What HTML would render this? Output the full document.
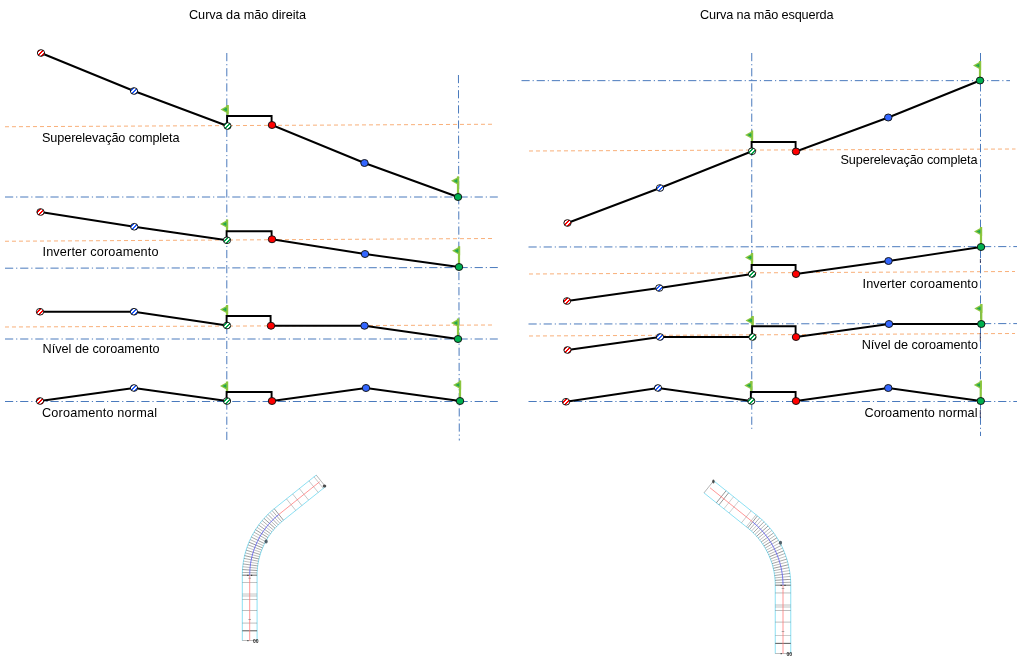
<!DOCTYPE html>
<html lang="pt"><head><meta charset="utf-8"><title>Superelevação</title>
<style>
html,body{margin:0;padding:0;background:#fff}
body{width:1024px;height:668px;overflow:hidden}
svg{display:block}
text{font-family:"Liberation Sans",sans-serif;font-size:12.7px;fill:#000}
.dd{stroke:#4a7abd;stroke-width:1;stroke-dasharray:8.2 2.9 1.2 2.85;fill:none}
.od{stroke:#f9b07a;stroke-width:1;stroke-dasharray:4 3;fill:none}
.ln{stroke:#000;stroke-width:1.9;fill:none;stroke-linejoin:miter;stroke-linecap:butt}
.c{stroke:#111;stroke-width:0.95}
.pole{stroke:#8cc63f;stroke-width:2.2;fill:none}
.fl{fill:#8cc63f}
.fi{fill:#22a84f}
</style></head><body>
<svg width="1024" height="668" viewBox="0 0 1024 668">
<defs>
<pattern id="hr" width="4" height="4" patternUnits="userSpaceOnUse"><rect width="4" height="4" fill="#fff"/><rect x="0" y="0" width="2" height="1" fill="#ff0000"/><rect x="3" y="1" width="2" height="1" fill="#ff0000"/><rect x="0" y="1" width="1" height="1" fill="#ff0000"/><rect x="2" y="2" width="2" height="1" fill="#ff0000"/><rect x="1" y="3" width="2" height="1" fill="#ff0000"/></pattern>
<pattern id="hb" width="4" height="4" patternUnits="userSpaceOnUse"><rect width="4" height="4" fill="#fff"/><rect x="0" y="0" width="2" height="1" fill="#1f5bff"/><rect x="3" y="1" width="2" height="1" fill="#1f5bff"/><rect x="0" y="1" width="1" height="1" fill="#1f5bff"/><rect x="2" y="2" width="2" height="1" fill="#1f5bff"/><rect x="1" y="3" width="2" height="1" fill="#1f5bff"/></pattern>
<pattern id="hg" width="4" height="4" patternUnits="userSpaceOnUse"><rect width="4" height="4" fill="#fff"/><rect x="0" y="0" width="2" height="1" fill="#00a849"/><rect x="3" y="1" width="2" height="1" fill="#00a849"/><rect x="0" y="1" width="1" height="1" fill="#00a849"/><rect x="2" y="2" width="2" height="1" fill="#00a849"/><rect x="1" y="3" width="2" height="1" fill="#00a849"/></pattern>
</defs>

<line class="od" x1="5" y1="126.75" x2="492" y2="124.25"/>
<line class="od" x1="5" y1="241.25" x2="492" y2="238.5"/>
<line class="od" x1="5" y1="327" x2="492" y2="325"/>
<line class="od" x1="529" y1="151" x2="1015.5" y2="149"/>
<line class="od" x1="529" y1="274" x2="1015" y2="271.5"/>
<line class="od" x1="529" y1="336" x2="1015" y2="333.5"/>
<line class="dd" x1="226.8" y1="53" x2="226.8" y2="441"/>
<line class="dd" x1="458.45" y1="75" x2="459.3" y2="440.5"/>
<line class="dd" x1="5" y1="197" x2="497.8" y2="197"/>
<line class="dd" x1="5" y1="268.2" x2="497.8" y2="267.55"/>
<line class="dd" x1="5" y1="339" x2="497.8" y2="339"/>
<line class="dd" x1="5" y1="401.5" x2="497.8" y2="401.5"/>
<line class="dd" x1="751.75" y1="53" x2="751.75" y2="431"/>
<line class="dd" x1="980.5" y1="53" x2="980.5" y2="436"/>
<line class="dd" x1="521.5" y1="80.65" x2="1010" y2="80.65"/>
<line class="dd" x1="528.5" y1="247.0" x2="1017" y2="246.6"/>
<line class="dd" x1="528.5" y1="324.0" x2="1017" y2="323.6"/>
<line class="dd" x1="528.5" y1="401.5" x2="1017" y2="401.5"/>
<line class="pole" x1="227.5" y1="105" x2="227.5" y2="116"/>
<polygon class="fl" points="228.6,105 220.5,109.4 228.6,114"/>
<polygon class="fi" points="226.9,107.4 222.9,109.5 226.9,111.6"/>
<line class="pole" x1="458" y1="176.4" x2="458" y2="197"/>
<polygon class="fl" points="459.1,176.4 451,180.8 459.1,185.4"/>
<polygon class="fi" points="457.4,178.8 453.4,180.9 457.4,183.0"/>
<polyline class="ln" points="41,53 134,91 227.5,126 227.1,126 227.1,116 271.6,116 271.6,125 272,125 364.5,163 458,197"/>
<ellipse class="c" cx="41" cy="53" rx="3.65" ry="3.35" fill="url(#hr)"/>
<ellipse class="c" cx="134" cy="91" rx="3.65" ry="3.35" fill="url(#hb)"/>
<ellipse class="c" cx="227.5" cy="126" rx="3.65" ry="3.35" fill="url(#hg)"/>
<ellipse class="c" cx="272" cy="125" rx="3.75" ry="3.5" fill="#ff0000"/>
<ellipse class="c" cx="364.5" cy="163" rx="3.75" ry="3.5" fill="#3366ff"/>
<ellipse class="c" cx="458" cy="197" rx="3.75" ry="3.5" fill="#00b050"/>
<line class="pole" x1="227" y1="219.5" x2="227" y2="231.25"/>
<polygon class="fl" points="228.1,219.5 220,223.9 228.1,228.5"/>
<polygon class="fi" points="226.4,221.9 222.4,224.0 226.4,226.1"/>
<line class="pole" x1="459" y1="246.3" x2="459" y2="267"/>
<polygon class="fl" points="460.1,246.3 452,250.70000000000002 460.1,255.3"/>
<polygon class="fi" points="458.4,248.70000000000002 454.4,250.8 458.4,252.9"/>
<polyline class="ln" points="40.5,212 134.25,226.75 227,240.25 226.6,240.25 226.6,231.25 271.6,231.25 271.6,239.25 272,239.25 365,254 459,267"/>
<ellipse class="c" cx="40.5" cy="212" rx="3.65" ry="3.35" fill="url(#hr)"/>
<ellipse class="c" cx="134.25" cy="226.75" rx="3.65" ry="3.35" fill="url(#hb)"/>
<ellipse class="c" cx="227" cy="240.25" rx="3.65" ry="3.35" fill="url(#hg)"/>
<ellipse class="c" cx="272" cy="239.25" rx="3.75" ry="3.5" fill="#ff0000"/>
<ellipse class="c" cx="365" cy="254" rx="3.75" ry="3.5" fill="#3366ff"/>
<ellipse class="c" cx="459" cy="267" rx="3.75" ry="3.5" fill="#00b050"/>
<line class="pole" x1="227" y1="305" x2="227" y2="316"/>
<polygon class="fl" points="228.1,305 220,309.4 228.1,314"/>
<polygon class="fi" points="226.4,307.4 222.4,309.5 226.4,311.6"/>
<line class="pole" x1="458" y1="318.5" x2="458" y2="339"/>
<polygon class="fl" points="459.1,318.5 451,322.9 459.1,327.5"/>
<polygon class="fi" points="457.4,320.9 453.4,323.0 457.4,325.1"/>
<polyline class="ln" points="40,311.75 134,311.75 227,325.5 226.6,325.5 226.6,316 270.6,316 270.6,325.75 271,325.75 364.5,325.75 458,339"/>
<ellipse class="c" cx="40" cy="311.75" rx="3.65" ry="3.35" fill="url(#hr)"/>
<ellipse class="c" cx="134" cy="311.75" rx="3.65" ry="3.35" fill="url(#hb)"/>
<ellipse class="c" cx="227" cy="325.5" rx="3.65" ry="3.35" fill="url(#hg)"/>
<ellipse class="c" cx="271" cy="325.75" rx="3.75" ry="3.5" fill="#ff0000"/>
<ellipse class="c" cx="364.5" cy="325.75" rx="3.75" ry="3.5" fill="#3366ff"/>
<ellipse class="c" cx="458" cy="339" rx="3.75" ry="3.5" fill="#00b050"/>
<line class="pole" x1="227" y1="381.5" x2="227" y2="392"/>
<polygon class="fl" points="228.1,381.5 220,385.9 228.1,390.5"/>
<polygon class="fi" points="226.4,383.9 222.4,386.0 226.4,388.1"/>
<line class="pole" x1="460" y1="380.5" x2="460" y2="401"/>
<polygon class="fl" points="461.1,380.5 453,384.9 461.1,389.5"/>
<polygon class="fi" points="459.4,382.9 455.4,385.0 459.4,387.1"/>
<polyline class="ln" points="40,401 134,388 227,401 226.6,401 226.6,392 271.6,392 271.6,401 272,401 366,388 460,401"/>
<ellipse class="c" cx="40" cy="401" rx="3.65" ry="3.35" fill="url(#hr)"/>
<ellipse class="c" cx="134" cy="388" rx="3.65" ry="3.35" fill="url(#hb)"/>
<ellipse class="c" cx="227" cy="401" rx="3.65" ry="3.35" fill="url(#hg)"/>
<ellipse class="c" cx="272" cy="401" rx="3.75" ry="3.5" fill="#ff0000"/>
<ellipse class="c" cx="366" cy="388" rx="3.75" ry="3.5" fill="#3366ff"/>
<ellipse class="c" cx="460" cy="401" rx="3.75" ry="3.5" fill="#00b050"/>
<line class="pole" x1="752" y1="130.5" x2="752" y2="142"/>
<polygon class="fl" points="753.1,130.5 745,134.9 753.1,139.5"/>
<polygon class="fi" points="751.4,132.9 747.4,135.0 751.4,137.1"/>
<line class="pole" x1="980" y1="61" x2="980" y2="80.5"/>
<polygon class="fl" points="981.1,61 973,65.4 981.1,70"/>
<polygon class="fi" points="979.4,63.4 975.4,65.5 979.4,67.6"/>
<polyline class="ln" points="567.5,223 660,188 752,151.25 751.6,151.25 751.6,142 795.6,142 795.6,151.5 796,151.5 888.25,117.5 980,80.5"/>
<ellipse class="c" cx="567.5" cy="223" rx="3.65" ry="3.35" fill="url(#hr)"/>
<ellipse class="c" cx="660" cy="188" rx="3.65" ry="3.35" fill="url(#hb)"/>
<ellipse class="c" cx="752" cy="151.25" rx="3.65" ry="3.35" fill="url(#hg)"/>
<ellipse class="c" cx="796" cy="151.5" rx="3.75" ry="3.5" fill="#ff0000"/>
<ellipse class="c" cx="888.25" cy="117.5" rx="3.75" ry="3.5" fill="#3366ff"/>
<ellipse class="c" cx="980" cy="80.5" rx="3.75" ry="3.5" fill="#00b050"/>
<line class="pole" x1="752" y1="253" x2="752" y2="265"/>
<polygon class="fl" points="753.1,253 745,257.4 753.1,262"/>
<polygon class="fi" points="751.4,255.4 747.4,257.5 751.4,259.6"/>
<line class="pole" x1="981" y1="227" x2="981" y2="247"/>
<polygon class="fl" points="982.1,227 974,231.4 982.1,236"/>
<polygon class="fi" points="980.4,229.4 976.4,231.5 980.4,233.6"/>
<polyline class="ln" points="567,301 659.25,288 752,274 751.6,274 751.6,265 795.6,265 795.6,274 796,274 888.5,261 981,247"/>
<ellipse class="c" cx="567" cy="301" rx="3.65" ry="3.35" fill="url(#hr)"/>
<ellipse class="c" cx="659.25" cy="288" rx="3.65" ry="3.35" fill="url(#hb)"/>
<ellipse class="c" cx="752" cy="274" rx="3.65" ry="3.35" fill="url(#hg)"/>
<ellipse class="c" cx="796" cy="274" rx="3.75" ry="3.5" fill="#ff0000"/>
<ellipse class="c" cx="888.5" cy="261" rx="3.75" ry="3.5" fill="#3366ff"/>
<ellipse class="c" cx="981" cy="247" rx="3.75" ry="3.5" fill="#00b050"/>
<line class="pole" x1="752.5" y1="316" x2="752.5" y2="326.25"/>
<polygon class="fl" points="753.6,316 745.5,320.4 753.6,325"/>
<polygon class="fi" points="751.9,318.4 747.9,320.5 751.9,322.6"/>
<line class="pole" x1="981.25" y1="304" x2="981.25" y2="324"/>
<polygon class="fl" points="982.35,304 974.25,308.4 982.35,313"/>
<polygon class="fi" points="980.65,306.4 976.65,308.5 980.65,310.6"/>
<polyline class="ln" points="567.5,350 660,337 752.5,337 752.1,337 752.1,326.25 795.6,326.25 795.6,337 796,337 889,324 981.25,324"/>
<ellipse class="c" cx="567.5" cy="350" rx="3.65" ry="3.35" fill="url(#hr)"/>
<ellipse class="c" cx="660" cy="337" rx="3.65" ry="3.35" fill="url(#hb)"/>
<ellipse class="c" cx="752.5" cy="337" rx="3.65" ry="3.35" fill="url(#hg)"/>
<ellipse class="c" cx="796" cy="337" rx="3.75" ry="3.5" fill="#ff0000"/>
<ellipse class="c" cx="889" cy="324" rx="3.75" ry="3.5" fill="#3366ff"/>
<ellipse class="c" cx="981.25" cy="324" rx="3.75" ry="3.5" fill="#00b050"/>
<line class="pole" x1="751.25" y1="381" x2="751.25" y2="392"/>
<polygon class="fl" points="752.35,381 744.25,385.4 752.35,390"/>
<polygon class="fi" points="750.65,383.4 746.65,385.5 750.65,387.6"/>
<line class="pole" x1="980.75" y1="380.5" x2="980.75" y2="401"/>
<polygon class="fl" points="981.85,380.5 973.75,384.9 981.85,389.5"/>
<polygon class="fi" points="980.15,382.9 976.15,385.0 980.15,387.1"/>
<polyline class="ln" points="566,401.75 658,388 751.25,401 750.85,401 750.85,392 795.6,392 795.6,401 796,401 888.25,388 980.75,401"/>
<ellipse class="c" cx="566" cy="401.75" rx="3.65" ry="3.35" fill="url(#hr)"/>
<ellipse class="c" cx="658" cy="388" rx="3.65" ry="3.35" fill="url(#hb)"/>
<ellipse class="c" cx="751.25" cy="401" rx="3.65" ry="3.35" fill="url(#hg)"/>
<ellipse class="c" cx="796" cy="401" rx="3.75" ry="3.5" fill="#ff0000"/>
<ellipse class="c" cx="888.25" cy="388" rx="3.75" ry="3.5" fill="#3366ff"/>
<ellipse class="c" cx="980.75" cy="401" rx="3.75" ry="3.5" fill="#00b050"/>
<text x="189" y="18.75" textLength="117" lengthAdjust="spacing">Curva da mão direita</text>
<text x="700" y="18.75" textLength="133.5" lengthAdjust="spacing">Curva na mão esquerda</text>
<text x="42" y="141.75" textLength="137.5" lengthAdjust="spacing">Superelevação completa</text>
<text x="42.5" y="256" textLength="116" lengthAdjust="spacing">Inverter coroamento</text>
<text x="42.5" y="353" textLength="117" lengthAdjust="spacing">Nível de coroamento</text>
<text x="42" y="417" textLength="115" lengthAdjust="spacing">Coroamento normal</text>
<text x="840.5" y="163.5" textLength="137" lengthAdjust="spacing">Superelevação completa</text>
<text x="862.5" y="288" textLength="115.5" lengthAdjust="spacing">Inverter coroamento</text>
<text x="861.75" y="348.5" textLength="116.25" lengthAdjust="spacing">Nível de coroamento</text>
<text x="864.5" y="416.75" textLength="113" lengthAdjust="spacing">Coroamento normal</text>
<line x1="980.3" y1="333" x2="980.3" y2="341.4" stroke="#1a1a40" stroke-width="0.8"/>
<line x1="980.4" y1="259" x2="980.4" y2="263" stroke="#1a1a40" stroke-width="0.8"/>
<line x1="980.3" y1="410" x2="980.3" y2="418" stroke="#1a1a40" stroke-width="0.8"/>
<polyline fill="none" stroke="#7fdcf2" stroke-width="0.9" points="242.30,640.60 242.30,575.20 242.36,572.02 242.54,568.85 242.83,565.68 243.25,562.53 243.78,559.40 244.43,556.29 245.19,553.20 246.07,550.15 247.06,547.13 248.16,544.15 249.37,541.21 250.70,538.32 252.13,535.48 253.66,532.70 255.30,529.97 257.03,527.31 258.87,524.72 260.80,522.19 262.82,519.74 264.94,517.37 267.14,515.07 269.42,512.86 271.79,510.74 274.23,508.71 316.22,475.07"/>
<polyline fill="none" stroke="#7fdcf2" stroke-width="0.9" points="257.10,640.60 257.10,575.20 257.15,572.57 257.30,569.95 257.54,567.34 257.88,564.73 258.32,562.14 258.86,559.57 259.49,557.02 260.21,554.50 261.03,552.00 261.94,549.54 262.95,547.11 264.04,544.73 265.22,542.38 266.49,540.08 267.84,537.83 269.27,535.63 270.79,533.49 272.39,531.40 274.06,529.37 275.80,527.41 277.62,525.52 279.51,523.69 281.46,521.94 283.48,520.26 325.47,486.62"/>
<line x1="242.30" y1="575.20" x2="257.10" y2="575.20" stroke="#444" stroke-width="0.6" opacity="0.9"/>
<line x1="242.30" y1="582.60" x2="257.10" y2="582.60" stroke="#444" stroke-width="0.5" opacity="0.7"/>
<line x1="242.30" y1="593.70" x2="257.10" y2="593.70" stroke="#444" stroke-width="0.5" opacity="0.35"/>
<line x1="242.30" y1="594.60" x2="257.10" y2="594.60" stroke="#444" stroke-width="0.5" opacity="0.35"/>
<line x1="242.30" y1="595.50" x2="257.10" y2="595.50" stroke="#444" stroke-width="0.5" opacity="0.35"/>
<line x1="242.30" y1="596.40" x2="257.10" y2="596.40" stroke="#444" stroke-width="0.5" opacity="0.35"/>
<line x1="242.30" y1="599.40" x2="257.10" y2="599.40" stroke="#444" stroke-width="0.5" opacity="0.7"/>
<line x1="242.30" y1="610.50" x2="257.10" y2="610.50" stroke="#444" stroke-width="0.5" opacity="0.7"/>
<line x1="242.30" y1="623.10" x2="257.10" y2="623.10" stroke="#444" stroke-width="0.5" opacity="0.7"/>
<line x1="242.30" y1="630.80" x2="257.10" y2="630.80" stroke="#444" stroke-width="1.0" opacity="0.9"/>
<line x1="242.30" y1="640.60" x2="257.10" y2="640.60" stroke="#444" stroke-width="0.5" opacity="0.8"/>
<line x1="242.30" y1="575.20" x2="257.10" y2="575.20" stroke="#333" stroke-width="0.55" opacity="0.55"/>
<line x1="242.35" y1="572.38" x2="257.14" y2="572.87" stroke="#333" stroke-width="0.55" opacity="0.7250000000000001"/>
<line x1="242.49" y1="569.55" x2="257.25" y2="570.53" stroke="#333" stroke-width="0.55" opacity="0.9"/>
<line x1="242.72" y1="566.74" x2="257.45" y2="568.21" stroke="#333" stroke-width="0.55" opacity="0.6375000000000001"/>
<line x1="243.05" y1="563.93" x2="257.72" y2="565.89" stroke="#333" stroke-width="0.55" opacity="0.8125"/>
<line x1="243.47" y1="561.14" x2="258.07" y2="563.58" stroke="#333" stroke-width="0.55" opacity="0.55"/>
<line x1="243.98" y1="558.36" x2="258.49" y2="561.28" stroke="#333" stroke-width="0.55" opacity="0.7250000000000001"/>
<line x1="244.59" y1="555.60" x2="258.99" y2="559.00" stroke="#333" stroke-width="0.55" opacity="0.9"/>
<line x1="245.28" y1="552.86" x2="259.56" y2="556.74" stroke="#333" stroke-width="0.55" opacity="0.6375000000000001"/>
<line x1="246.07" y1="550.15" x2="260.21" y2="554.50" stroke="#333" stroke-width="0.55" opacity="0.8125"/>
<line x1="246.94" y1="547.46" x2="260.94" y2="552.28" stroke="#333" stroke-width="0.55" opacity="0.55"/>
<line x1="247.91" y1="544.81" x2="261.73" y2="550.09" stroke="#333" stroke-width="0.55" opacity="0.7250000000000001"/>
<line x1="248.96" y1="542.18" x2="262.60" y2="547.92" stroke="#333" stroke-width="0.55" opacity="0.9"/>
<line x1="250.10" y1="539.60" x2="263.54" y2="545.78" stroke="#333" stroke-width="0.55" opacity="0.6375000000000001"/>
<line x1="251.32" y1="537.05" x2="264.55" y2="543.68" stroke="#333" stroke-width="0.55" opacity="0.8125"/>
<line x1="252.62" y1="534.55" x2="265.63" y2="541.61" stroke="#333" stroke-width="0.55" opacity="0.55"/>
<line x1="254.01" y1="532.09" x2="266.78" y2="539.58" stroke="#333" stroke-width="0.55" opacity="0.7250000000000001"/>
<line x1="255.48" y1="529.67" x2="267.99" y2="537.58" stroke="#333" stroke-width="0.55" opacity="0.9"/>
<line x1="257.03" y1="527.31" x2="269.27" y2="535.63" stroke="#333" stroke-width="0.55" opacity="0.6375000000000001"/>
<line x1="258.66" y1="525.00" x2="270.62" y2="533.72" stroke="#333" stroke-width="0.55" opacity="0.8125"/>
<line x1="260.36" y1="522.75" x2="272.02" y2="531.86" stroke="#333" stroke-width="0.55" opacity="0.55"/>
<line x1="262.14" y1="520.55" x2="273.49" y2="530.04" stroke="#333" stroke-width="0.55" opacity="0.7250000000000001"/>
<line x1="263.99" y1="518.41" x2="275.02" y2="528.28" stroke="#333" stroke-width="0.55" opacity="0.9"/>
<line x1="265.90" y1="516.34" x2="276.60" y2="526.56" stroke="#333" stroke-width="0.55" opacity="0.6375000000000001"/>
<line x1="267.89" y1="514.33" x2="278.24" y2="524.90" stroke="#333" stroke-width="0.55" opacity="0.8125"/>
<line x1="269.94" y1="512.38" x2="279.94" y2="523.30" stroke="#333" stroke-width="0.55" opacity="0.55"/>
<line x1="272.05" y1="510.51" x2="281.69" y2="521.75" stroke="#333" stroke-width="0.55" opacity="0.7250000000000001"/>
<line x1="274.23" y1="508.71" x2="283.48" y2="520.26" stroke="#333" stroke-width="0.55" opacity="0.9"/>
<line x1="286.48" y1="498.89" x2="295.74" y2="510.44" stroke="#444" stroke-width="0.5" opacity="0.6"/>
<line x1="292.65" y1="493.95" x2="301.90" y2="505.50" stroke="#444" stroke-width="0.5" opacity="0.6"/>
<line x1="299.36" y1="488.57" x2="308.61" y2="500.12" stroke="#444" stroke-width="0.5" opacity="0.6"/>
<line x1="308.96" y1="480.88" x2="318.21" y2="492.43" stroke="#444" stroke-width="0.5" opacity="0.6"/>
<line x1="314.03" y1="476.82" x2="323.28" y2="488.37" stroke="#444" stroke-width="0.5" opacity="0.6"/>
<line x1="316.22" y1="475.07" x2="325.47" y2="486.62" stroke="#444" stroke-width="0.5" opacity="0.8"/>
<line x1="249.7" y1="640.6" x2="249.7" y2="575.2" stroke="#ff7474" stroke-width="0.75"/>
<polyline fill="none" stroke="#5a5af0" stroke-width="0.8" points="249.70,575.20 249.75,572.30 249.92,569.40 250.19,566.51 250.56,563.63 251.05,560.77 251.64,557.93 252.34,555.11 253.14,552.32 254.04,549.57 255.05,546.84 256.16,544.16 257.37,541.52 258.67,538.93 260.07,536.39 261.57,533.90 263.15,531.47 264.83,529.10 266.59,526.79 268.44,524.56 270.37,522.39 272.38,520.30 274.47,518.28 276.63,516.34 278.86,514.48"/>
<line x1="278.86" y1="514.48" x2="319.67" y2="481.78" stroke="#ff7474" stroke-width="0.75"/>
<text x="253" y="643.2" style="font-size:5px;font-weight:bold;fill:#222">00</text>
<ellipse cx="266.1" cy="541.6" rx="1.6" ry="2" fill="#3a4a55" opacity=".85"/>
<ellipse cx="324.5" cy="486.1" rx="1.8" ry="1.5" fill="#333" opacity=".85"/>
<rect x="247.3" y="574.8" width="1.2" height="1" fill="#222"/><rect x="251" y="574.8" width="1.2" height="1" fill="#222"/>
<rect x="247.3" y="640.2" width="1.2" height="1" fill="#222"/>
<rect x="248.4" y="577.8" width="2.6" height="0.6" fill="#777"/><rect x="248.4" y="619" width="2.6" height="0.6" fill="#777"/>
<polyline fill="none" stroke="#7fdcf2" stroke-width="0.9" points="790.75,653.60 790.75,585.20 790.69,581.89 790.50,578.58 790.19,575.28 789.76,571.99 789.21,568.72 788.53,565.48 787.74,562.26 786.82,559.07 785.79,555.93 784.64,552.82 783.37,549.75 781.99,546.74 780.50,543.78 778.90,540.88 777.20,538.03 775.39,535.26 773.47,532.55 771.46,529.92 769.35,527.36 767.14,524.89 764.85,522.50 762.47,520.19 760.00,517.98 757.45,515.86 713.67,480.78"/>
<polyline fill="none" stroke="#7fdcf2" stroke-width="0.9" points="775.25,653.60 775.25,585.20 775.20,582.46 775.05,579.73 774.79,577.01 774.43,574.29 773.98,571.60 773.42,568.92 772.76,566.26 772.01,563.63 771.15,561.03 770.20,558.47 769.16,555.94 768.02,553.45 766.79,551.00 765.47,548.61 764.06,546.26 762.57,543.97 760.99,541.74 759.32,539.56 757.58,537.45 755.76,535.41 753.87,533.44 751.90,531.53 749.86,529.71 747.76,527.96 703.98,492.88"/>
<line x1="775.25" y1="585.20" x2="790.75" y2="585.20" stroke="#444" stroke-width="0.6" opacity="0.9"/>
<line x1="775.25" y1="592.94" x2="790.75" y2="592.94" stroke="#444" stroke-width="0.5" opacity="0.7"/>
<line x1="775.25" y1="604.55" x2="790.75" y2="604.55" stroke="#444" stroke-width="0.5" opacity="0.35"/>
<line x1="775.25" y1="605.49" x2="790.75" y2="605.49" stroke="#444" stroke-width="0.5" opacity="0.35"/>
<line x1="775.25" y1="606.43" x2="790.75" y2="606.43" stroke="#444" stroke-width="0.5" opacity="0.35"/>
<line x1="775.25" y1="607.38" x2="790.75" y2="607.38" stroke="#444" stroke-width="0.5" opacity="0.35"/>
<line x1="775.25" y1="610.51" x2="790.75" y2="610.51" stroke="#444" stroke-width="0.5" opacity="0.7"/>
<line x1="775.25" y1="622.12" x2="790.75" y2="622.12" stroke="#444" stroke-width="0.5" opacity="0.7"/>
<line x1="775.25" y1="635.30" x2="790.75" y2="635.30" stroke="#444" stroke-width="0.5" opacity="0.7"/>
<line x1="775.25" y1="643.36" x2="790.75" y2="643.36" stroke="#444" stroke-width="1.0" opacity="0.9"/>
<line x1="775.25" y1="653.61" x2="790.75" y2="653.61" stroke="#444" stroke-width="0.5" opacity="0.8"/>
<line x1="790.75" y1="585.20" x2="775.25" y2="585.20" stroke="#333" stroke-width="0.55" opacity="0.55"/>
<line x1="790.70" y1="582.25" x2="775.21" y2="582.77" stroke="#333" stroke-width="0.55" opacity="0.7250000000000001"/>
<line x1="790.55" y1="579.31" x2="775.09" y2="580.34" stroke="#333" stroke-width="0.55" opacity="0.9"/>
<line x1="790.31" y1="576.38" x2="774.89" y2="577.91" stroke="#333" stroke-width="0.55" opacity="0.6375000000000001"/>
<line x1="789.97" y1="573.45" x2="774.61" y2="575.50" stroke="#333" stroke-width="0.55" opacity="0.8125"/>
<line x1="789.53" y1="570.54" x2="774.24" y2="573.09" stroke="#333" stroke-width="0.55" opacity="0.55"/>
<line x1="789.00" y1="567.64" x2="773.80" y2="570.70" stroke="#333" stroke-width="0.55" opacity="0.7250000000000001"/>
<line x1="788.37" y1="564.76" x2="773.28" y2="568.33" stroke="#333" stroke-width="0.55" opacity="0.9"/>
<line x1="787.64" y1="561.90" x2="772.68" y2="565.97" stroke="#333" stroke-width="0.55" opacity="0.6375000000000001"/>
<line x1="786.82" y1="559.07" x2="772.01" y2="563.63" stroke="#333" stroke-width="0.55" opacity="0.8125"/>
<line x1="785.91" y1="556.27" x2="771.25" y2="561.32" stroke="#333" stroke-width="0.55" opacity="0.55"/>
<line x1="784.90" y1="553.50" x2="770.42" y2="559.03" stroke="#333" stroke-width="0.55" opacity="0.7250000000000001"/>
<line x1="783.81" y1="550.77" x2="769.52" y2="556.78" stroke="#333" stroke-width="0.55" opacity="0.9"/>
<line x1="782.62" y1="548.07" x2="768.54" y2="554.55" stroke="#333" stroke-width="0.55" opacity="0.6375000000000001"/>
<line x1="781.35" y1="545.42" x2="767.49" y2="552.36" stroke="#333" stroke-width="0.55" opacity="0.8125"/>
<line x1="779.98" y1="542.80" x2="766.36" y2="550.20" stroke="#333" stroke-width="0.55" opacity="0.55"/>
<line x1="778.53" y1="540.24" x2="765.17" y2="548.08" stroke="#333" stroke-width="0.55" opacity="0.7250000000000001"/>
<line x1="777.00" y1="537.72" x2="763.90" y2="546.01" stroke="#333" stroke-width="0.55" opacity="0.9"/>
<line x1="775.39" y1="535.26" x2="762.57" y2="543.97" stroke="#333" stroke-width="0.55" opacity="0.6375000000000001"/>
<line x1="773.69" y1="532.85" x2="761.17" y2="541.98" stroke="#333" stroke-width="0.55" opacity="0.8125"/>
<line x1="771.91" y1="530.50" x2="759.70" y2="540.04" stroke="#333" stroke-width="0.55" opacity="0.55"/>
<line x1="770.06" y1="528.21" x2="758.17" y2="538.15" stroke="#333" stroke-width="0.55" opacity="0.7250000000000001"/>
<line x1="768.14" y1="525.98" x2="756.58" y2="536.31" stroke="#333" stroke-width="0.55" opacity="0.9"/>
<line x1="766.14" y1="523.82" x2="754.93" y2="534.52" stroke="#333" stroke-width="0.55" opacity="0.6375000000000001"/>
<line x1="764.07" y1="521.72" x2="753.22" y2="532.79" stroke="#333" stroke-width="0.55" opacity="0.8125"/>
<line x1="761.93" y1="519.69" x2="751.45" y2="531.12" stroke="#333" stroke-width="0.55" opacity="0.55"/>
<line x1="759.72" y1="517.74" x2="749.63" y2="529.51" stroke="#333" stroke-width="0.55" opacity="0.7250000000000001"/>
<line x1="757.45" y1="515.86" x2="747.76" y2="527.96" stroke="#333" stroke-width="0.55" opacity="0.9"/>
<line x1="756.05" y1="514.73" x2="746.36" y2="526.83" stroke="#444" stroke-width="0.5" opacity="0.6"/>
<line x1="751.13" y1="510.79" x2="741.44" y2="522.89" stroke="#444" stroke-width="0.5" opacity="0.6"/>
<line x1="738.80" y1="500.92" x2="729.11" y2="513.01" stroke="#444" stroke-width="0.5" opacity="0.5"/>
<line x1="733.57" y1="496.73" x2="723.88" y2="508.82" stroke="#444" stroke-width="0.5" opacity="0.5"/>
<line x1="728.65" y1="492.79" x2="718.96" y2="504.88" stroke="#444" stroke-width="0.7" opacity="0.8"/>
<line x1="726.08" y1="490.72" x2="716.39" y2="502.82" stroke="#444" stroke-width="0.7" opacity="0.8"/>
<line x1="713.67" y1="480.78" x2="703.98" y2="492.88" stroke="#444" stroke-width="0.5" opacity="0.8"/>
<line x1="783" y1="653.6" x2="783" y2="585.2" stroke="#ff7474" stroke-width="0.75"/>
<polyline fill="none" stroke="#5a5af0" stroke-width="0.8" points="783.00,585.20 782.94,582.18 782.77,579.15 782.49,576.14 782.10,573.14 781.59,570.16 780.98,567.20 780.25,564.26 779.41,561.35 778.47,558.48 777.42,555.64 776.27,552.85 775.01,550.09 773.65,547.39 772.19,544.74 770.63,542.15 768.98,539.62 767.23,537.14 765.39,534.74 763.47,532.41 761.45,530.15 759.36,527.97 757.18,525.86 754.93,523.84 752.61,521.91"/>
<line x1="752.61" y1="521.91" x2="710.00" y2="487.77" stroke="#ff7474" stroke-width="0.75"/>
<text x="786.6" y="656.3" style="font-size:5px;font-weight:bold;fill:#222">00</text>
<ellipse cx="780.5" cy="542.8" rx="1.6" ry="2" fill="#3a4a55" opacity=".85"/>
<ellipse cx="713.4" cy="481.6" rx="1.2" ry="2" fill="#333" opacity=".85"/>
<rect x="780.6" y="584.8" width="1.2" height="1" fill="#222"/><rect x="784.4" y="584.8" width="1.2" height="1" fill="#222"/>
<rect x="780.6" y="653.2" width="1.2" height="1" fill="#222"/>
<rect x="781.7" y="588.2" width="2.6" height="0.6" fill="#777"/><rect x="781.7" y="631.3" width="2.6" height="0.6" fill="#777"/>
</svg></body></html>
